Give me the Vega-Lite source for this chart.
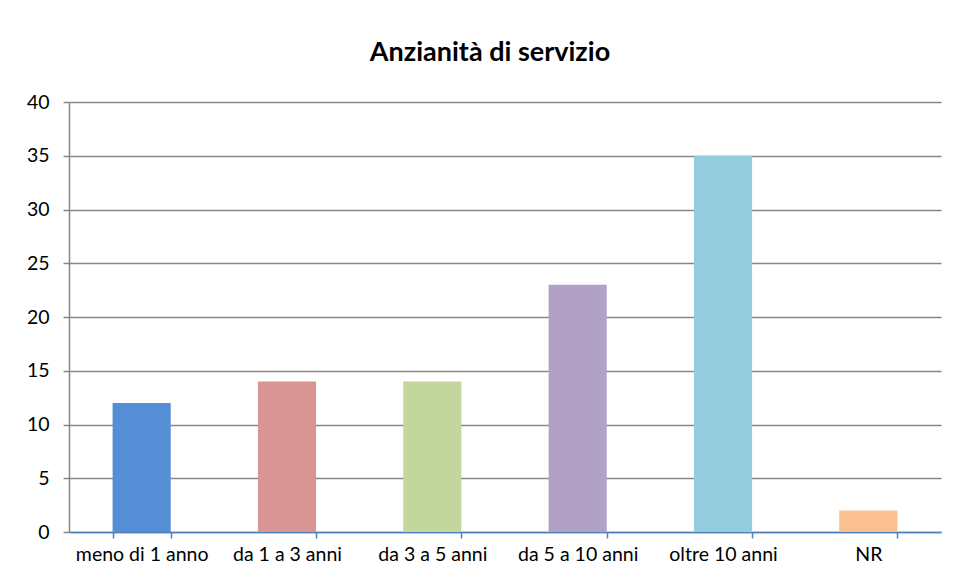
{
  "$schema": "https://vega.github.io/schema/vega-lite/v6.json",
  "width": 872,
  "height": 430,
  "autosize": "none",
  "padding": {"left": 69, "top": 102, "right": 19, "bottom": 49},
  "background": "white",
  "title": {
    "text": "Anzianità di servizio",
    "font": "Lato",
    "fontSize": 27,
    "fontWeight": "bold",
    "color": "#000000",
    "anchor": "middle",
    "frame": "group",
    "dx": -15,
    "offset": 25
  },
  "data": {
    "values": [
      {"categoria": "meno di 1 anno", "valore": 12},
      {"categoria": "da 1 a 3 anni", "valore": 14},
      {"categoria": "da 3 a 5 anni", "valore": 14},
      {"categoria": "da 5 a 10 anni", "valore": 23},
      {"categoria": "oltre 10 anni", "valore": 35},
      {"categoria": "NR", "valore": 2}
    ]
  },
  "mark": {"type": "bar"},
  "encoding": {
    "x": {
      "field": "categoria",
      "type": "nominal",
      "sort": null,
      "scale": {"paddingInner": 0.6, "paddingOuter": 0.3},
      "axis": {
        "title": null,
        "labelAngle": 0,
        "labelFont": "Lato",
        "labelFontSize": 19.5,
        "labelColor": "#000000",
        "labelPadding": 7,
        "domainColor": "#4F81BD",
        "domainWidth": 1.5,
        "tickColor": "#4F81BD",
        "tickWidth": 1.5,
        "tickSize": 6,
        "tickBand": "extent",
        "grid": false
      }
    },
    "y": {
      "field": "valore",
      "type": "quantitative",
      "scale": {"domain": [0, 40]},
      "axis": {
        "title": null,
        "values": [0, 5, 10, 15, 20, 25, 30, 35, 40],
        "labelFont": "Lato",
        "labelFontSize": 19.5,
        "labelColor": "#000000",
        "labelPadding": 14,
        "domainColor": "#868686",
        "domainWidth": 1.5,
        "tickColor": "#868686",
        "tickWidth": 1.5,
        "tickSize": 6,
        "grid": true,
        "gridColor": "#868686",
        "gridWidth": 1.5
      }
    },
    "color": {
      "field": "categoria",
      "type": "nominal",
      "sort": null,
      "scale": {
        "domain": ["meno di 1 anno", "da 1 a 3 anni", "da 3 a 5 anni", "da 5 a 10 anni", "oltre 10 anni", "NR"],
        "range": ["#558ED5", "#D99594", "#C3D69B", "#B2A1C7", "#93CDDD", "#FAC090"]
      },
      "legend": null
    }
  },
  "config": {
    "view": {"stroke": null}
  }
}
